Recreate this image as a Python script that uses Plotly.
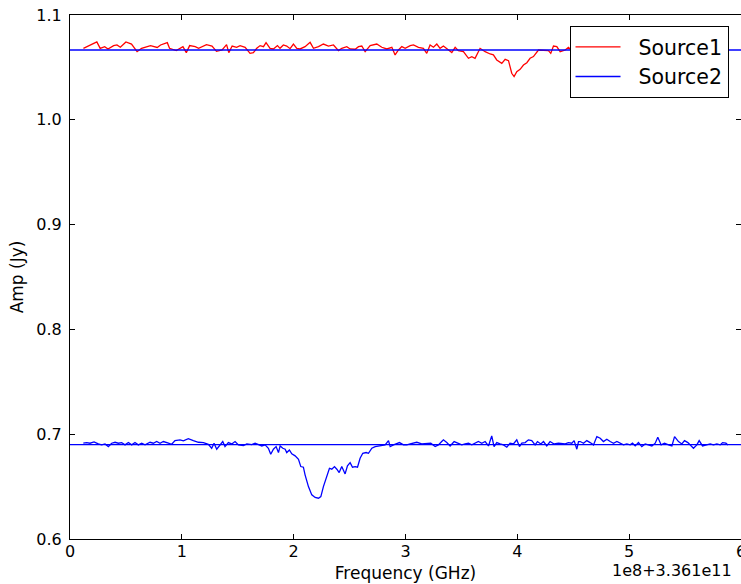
import plotly.graph_objects as go

# Frequency offsets (units of 1e8 Hz, offset 3.361e11) and amplitudes (Jy)
src1_x = [0.12, 0.24, 0.27, 0.31, 0.34, 0.39, 0.42, 0.45, 0.50, 0.55, 0.60, 0.64, 0.72, 0.78, 0.81,
          0.87, 0.89, 0.95, 1.01, 1.04, 1.07, 1.12, 1.15, 1.22, 1.27, 1.31, 1.36, 1.40, 1.42, 1.45,
          1.49, 1.521, 1.566, 1.610, 1.640, 1.670, 1.700, 1.730, 1.753, 1.789, 1.819, 1.855, 1.878,
          1.908, 1.938, 1.968, 1.998, 2.028, 2.057, 2.102, 2.147, 2.177, 2.222, 2.266, 2.311, 2.356,
          2.401, 2.430, 2.475, 2.505, 2.550, 2.580, 2.609, 2.639, 2.684, 2.714, 2.743, 2.788, 2.833,
          2.878, 2.907, 2.937, 2.967, 2.997, 3.042, 3.071, 3.116, 3.160, 3.190, 3.220, 3.250, 3.280,
          3.309, 3.339, 3.369, 3.414, 3.444, 3.473, 3.518, 3.563, 3.593, 3.622, 3.667, 3.712, 3.757,
          3.786, 3.816, 3.861, 3.891, 3.921, 3.950, 3.971, 3.995, 4.025, 4.055, 4.085, 4.114, 4.144,
          4.189, 4.234, 4.278, 4.299, 4.323, 4.353, 4.383, 4.428, 4.457, 4.481]
src1_amp = [1.0682, 1.0743, 1.0682, 1.0698, 1.0676, 1.0708, 1.0714, 1.0692, 1.0743, 1.0723, 1.0650,
            1.0682, 1.0708, 1.0690, 1.0714, 1.0736, 1.0682, 1.0660, 1.0698, 1.0641, 1.0708, 1.0698,
            1.0682, 1.0717, 1.0704, 1.0653, 1.0666, 1.0717, 1.0641, 1.0704, 1.0692, 1.0708, 1.0692,
            1.0634, 1.0641, 1.0682, 1.0708, 1.0698, 1.0736, 1.0682, 1.0676, 1.0708, 1.0682, 1.0714,
            1.0704, 1.0679, 1.0723, 1.0682, 1.0676, 1.0698, 1.0739, 1.0682, 1.0698, 1.0723, 1.0704,
            1.0714, 1.0660, 1.0682, 1.0698, 1.0676, 1.0673, 1.0698, 1.0704, 1.0650, 1.0708, 1.0714,
            1.0723, 1.0692, 1.0676, 1.0692, 1.0619, 1.0666, 1.0698, 1.0682, 1.0708, 1.0714, 1.0692,
            1.0682, 1.0634, 1.0714, 1.0692, 1.0723, 1.0682, 1.0704, 1.0682, 1.0641, 1.0692, 1.0660,
            1.0650, 1.0587, 1.0603, 1.0587, 1.0682, 1.0650, 1.0628, 1.0619, 1.0571, 1.0539, 1.0577,
            1.0564, 1.0444, 1.0412, 1.0460, 1.0482, 1.0523, 1.0545, 1.0587, 1.0603, 1.0666, 1.0660,
            1.0660, 1.0634, 1.0704, 1.0698, 1.0650, 1.0666, 1.0692, 1.0666]

src2_x = [0.119, 0.149, 0.179, 0.215, 0.253, 0.283, 0.313, 0.343, 0.373, 0.403, 0.432, 0.462, 0.492,
          0.522, 0.552, 0.581, 0.611, 0.641, 0.671, 0.716, 0.745, 0.775, 0.805, 0.835, 0.880, 0.909,
          0.939, 0.984, 1.014, 1.058, 1.103, 1.148, 1.193, 1.237, 1.267, 1.288, 1.312, 1.342, 1.366,
          1.386, 1.416, 1.446, 1.476, 1.506, 1.521, 1.551, 1.581, 1.625, 1.655, 1.685, 1.715, 1.745,
          1.774, 1.795, 1.819, 1.843, 1.864, 1.879, 1.903, 1.924, 1.938, 1.962, 1.983, 2.013, 2.043,
          2.064, 2.087, 2.102, 2.132, 2.162, 2.192, 2.222, 2.243, 2.266, 2.296, 2.320, 2.341, 2.365,
          2.386, 2.407, 2.430, 2.460, 2.481, 2.505, 2.526, 2.550, 2.571, 2.594, 2.618, 2.648, 2.669,
          2.699, 2.729, 2.773, 2.818, 2.848, 2.863, 2.893, 2.922, 2.946, 2.982, 3.012, 3.042, 3.101,
          3.145, 3.190, 3.226, 3.265, 3.294, 3.324, 3.339, 3.369, 3.399, 3.435, 3.473, 3.503, 3.533,
          3.563, 3.593, 3.622, 3.652, 3.682, 3.712, 3.742, 3.771, 3.792, 3.816, 3.846, 3.876, 3.906,
          3.935, 3.965, 3.995, 4.019, 4.040, 4.070, 4.099, 4.129, 4.159, 4.180, 4.210, 4.234, 4.263,
          4.293, 4.329, 4.368, 4.398, 4.428, 4.457, 4.487, 4.508, 4.532, 4.547, 4.562, 4.592, 4.621,
          4.651, 4.681, 4.711, 4.741, 4.770, 4.800, 4.830, 4.860, 4.890, 4.919, 4.949, 4.979, 5.009,
          5.030, 5.054, 5.083, 5.113, 5.143, 5.173, 5.203, 5.233, 5.256, 5.286, 5.316, 5.352, 5.382,
          5.406, 5.441, 5.471, 5.495, 5.525, 5.546, 5.575, 5.605, 5.626, 5.656, 5.695, 5.725, 5.754,
          5.784, 5.814, 5.835, 5.865, 5.883]
src2_amp = [0.6914, 0.6920, 0.6914, 0.6927, 0.6907, 0.6898, 0.6907, 0.6882, 0.6914, 0.6923, 0.6914,
            0.6920, 0.6898, 0.6920, 0.6898, 0.6920, 0.6898, 0.6914, 0.6898, 0.6923, 0.6914, 0.6930,
            0.6914, 0.6930, 0.6914, 0.6904, 0.6939, 0.6946, 0.6936, 0.6958, 0.6939, 0.6923, 0.6920,
            0.6904, 0.6866, 0.6914, 0.6857, 0.6898, 0.6930, 0.6882, 0.6920, 0.6907, 0.6930, 0.6898,
            0.6898, 0.6892, 0.6907, 0.6901, 0.6914, 0.6898, 0.6888, 0.6898, 0.6866, 0.6809, 0.6857,
            0.6882, 0.6825, 0.6888, 0.6866, 0.6857, 0.6825, 0.6850, 0.6812, 0.6793, 0.6761, 0.6691,
            0.6685, 0.6612, 0.6500, 0.6421, 0.6396, 0.6389, 0.6405, 0.6500, 0.6596, 0.6675, 0.6666,
            0.6691, 0.6666, 0.6634, 0.6691, 0.6621, 0.6698, 0.6729, 0.6685, 0.6691, 0.6685, 0.6771,
            0.6818, 0.6825, 0.6818, 0.6866, 0.6882, 0.6888, 0.6898, 0.6939, 0.6882, 0.6898, 0.6907,
            0.6920, 0.6898, 0.6898, 0.6907, 0.6923, 0.6907, 0.6907, 0.6914, 0.6882, 0.6898, 0.6930,
            0.6946, 0.6920, 0.6888, 0.6930, 0.6914, 0.6898, 0.6907, 0.6914, 0.6898, 0.6914, 0.6930,
            0.6914, 0.6930, 0.6888, 0.6984, 0.6882, 0.6920, 0.6907, 0.6898, 0.6876, 0.6914, 0.6907,
            0.6946, 0.6882, 0.6914, 0.6920, 0.6946, 0.6939, 0.6898, 0.6930, 0.6907, 0.6930, 0.6888,
            0.6930, 0.6907, 0.6914, 0.6907, 0.6907, 0.6920, 0.6914, 0.6939, 0.6857, 0.6930, 0.6930,
            0.6914, 0.6939, 0.6920, 0.6898, 0.6977, 0.6962, 0.6930, 0.6952, 0.6930, 0.6914, 0.6930,
            0.6914, 0.6898, 0.6907, 0.6898, 0.6914, 0.6888, 0.6920, 0.6882, 0.6907, 0.6898, 0.6888,
            0.6914, 0.6971, 0.6898, 0.6914, 0.6898, 0.6888, 0.6977, 0.6930, 0.6907, 0.6939, 0.6920,
            0.6898, 0.6866, 0.6898, 0.6939, 0.6888, 0.6898, 0.6907, 0.6898, 0.6907, 0.6898, 0.6920,
            0.6914, 0.6898]

# Reference levels (Jy)
ref_levels = [1.0666, 0.6900]

series_names = ["Source1", "Source2"]
x_ticks = [0, 1, 2, 3, 4, 5, 6]
y_ticks = [0.6, 0.7, 0.8, 0.9, 1.0, 1.1]
y_tick_labels = ["0.6", "0.7", "0.8", "0.9", "1.0", "1.1"]

FONT = "DejaVu Sans"
PAD = "\u00a0\u00a0"

fig = go.Figure()
fig.add_trace(go.Scatter(x=src1_x, y=src1_amp, mode="lines", name=PAD + series_names[0],
                         line=dict(color="#ff0000", width=1.3)))
fig.add_trace(go.Scatter(x=src2_x, y=src2_amp, mode="lines", name=PAD + series_names[1],
                         line=dict(color="#0000ff", width=1.3)))
for lv in ref_levels:
    fig.add_trace(go.Scatter(x=[x_ticks[0], x_ticks[-1]], y=[lv, lv], mode="lines",
                             showlegend=False, hoverinfo="skip",
                             line=dict(color="#0000ff", width=1.3)))

fig.update_layout(
    width=741, height=584,
    margin=dict(l=70, r=0, t=15, b=45, autoexpand=False),
    paper_bgcolor="white", plot_bgcolor="white",
    font=dict(family=FONT, size=16, color="black"),
    showlegend=True,
    legend=dict(x=0.9814, y=0.979, xanchor="right", yanchor="top",
                bgcolor="white", bordercolor="black", borderwidth=1,
                font=dict(family=FONT, size=20.5, color="black"),
                itemwidth=45, tracegroupgap=0),
    annotations=[dict(text="1e8+3.361e11", xref="paper", yref="paper",
                      x=0.805, y=-0.061, xanchor="left", yanchor="middle",
                      showarrow=False, font=dict(family=FONT, size=16, color="black"))],
)
fig.update_xaxes(range=[0, 6], tickvals=x_ticks, ticktext=[str(t) for t in x_ticks],
                 showgrid=False, zeroline=False, showline=True, linecolor="black",
                 linewidth=1, mirror="ticks", ticks="inside", ticklen=5, tickcolor="black",
                 title=dict(text="Frequency (GHz)", font=dict(size=17), standoff=6),
                 ticklabelstandoff=-2, ticklabeloverflow="allow", automargin=False)
fig.update_yaxes(range=[0.6, 1.1], tickvals=y_ticks, ticktext=y_tick_labels,
                 showgrid=False, zeroline=False, showline=True, linecolor="black",
                 linewidth=1, mirror="ticks", ticks="inside", ticklen=5, tickcolor="black",
                 title=dict(text="Amp (Jy)", font=dict(size=17), standoff=8),
                 ticklabelstandoff=4, automargin=False)

fig.write_html("out.html", config={"displayModeBar": False},
               post_script="document.body.style.margin='0';document.body.style.overflow='hidden';")
